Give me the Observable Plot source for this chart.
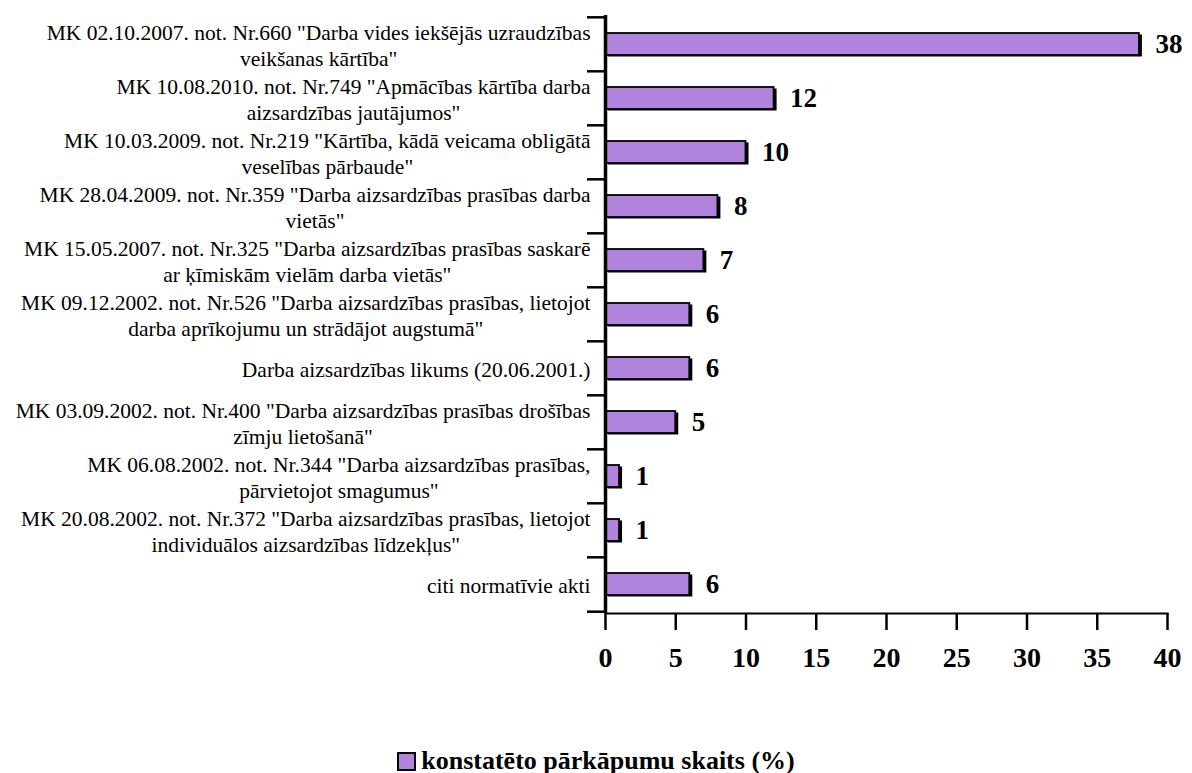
<!DOCTYPE html>
<html>
<head>
<meta charset="utf-8">
<script src="https://cdn.jsdelivr.net/npm/d3@7"></script>
<script src="https://cdn.jsdelivr.net/npm/@observablehq/plot@0.6"></script>
<style>
  body { margin: 0; background: #fff; font-family: "Liberation Serif", "Times New Roman", serif; }
  #legend { display: flex; justify-content: center; align-items: center; margin-top: 46px; font-weight: bold; font-size: 26px; color: #000; }
  #legend .sw { width: 15px; height: 15px; background: #b084dc; border: 2px solid #000; margin-right: 5px; }
</style>
</head>
<body>
<div id="chart"></div>
<div id="legend"><span class="sw"></span><span id="legend-text"></span></div>
<script>
const categories = [
  'MK 02.10.2007. not. Nr.660 "Darba vides iekšējās uzraudzības\nveikšanas kārtība"',
  'MK 10.08.2010. not. Nr.749 "Apmācības kārtība darba\naizsardzības jautājumos"',
  'MK 10.03.2009. not. Nr.219 "Kārtība, kādā veicama obligātā\nveselības pārbaude"',
  'MK 28.04.2009. not. Nr.359 "Darba aizsardzības prasības darba\nvietās"',
  'MK 15.05.2007. not. Nr.325 "Darba aizsardzības prasības saskarē\nar ķīmiskām vielām darba vietās"',
  'MK 09.12.2002. not. Nr.526 "Darba aizsardzības prasības, lietojot\ndarba aprīkojumu un strādājot augstumā"',
  'Darba aizsardzības likums (20.06.2001.)',
  'MK 03.09.2002. not. Nr.400 "Darba aizsardzības prasības drošības\nzīmju lietošanā"',
  'MK 06.08.2002. not. Nr.344 "Darba aizsardzības prasības,\npārvietojot smagumus"',
  'MK 20.08.2002. not. Nr.372 "Darba aizsardzības prasības, lietojot\nindividuālos aizsardzības līdzekļus"',
  'citi normatīvie akti'
];
const values = [38, 12, 10, 8, 7, 6, 6, 5, 1, 1, 6];
const xTicks = [0, 5, 10, 15, 20, 25, 30, 35, 40];
const seriesName = "konstatēto pārkāpumu skaits (%)";

const data = categories.map((c, i) => ({label: c, value: values[i]}));

const W = 1192, H = 700, mTop = 15, mBottom = 87;
const bw = (H - mTop - mBottom) / categories.length;
const inset = 16;

const chart = Plot.plot({
  width: W, height: H,
  marginLeft: 605, marginRight: 25, marginTop: mTop, marginBottom: mBottom,
  style: {fontFamily: '"Liberation Serif", "Times New Roman", serif', color: "#000", background: "#fff", overflow: "visible"},
  x: {domain: [0, 40]},
  y: {domain: categories, padding: 0},
  marks: [
    Plot.barX(data, {x: "value", y: "label", fill: "#000", insetTop: inset, insetBottom: inset, dx: 3, dy: 1.5}),
    Plot.barX(data, {x: "value", y: "label", fill: "#b084dc", stroke: "#000", strokeWidth: 1.8, insetTop: inset, insetBottom: inset}),
    Plot.text(data, {x: "value", y: "label", text: d => String(d.value), dx: 16, textAnchor: "start", fontWeight: "bold", fontSize: 27, fill: "#000"}),
    Plot.axisY({tickSize: 0, tickPadding: 15, fontSize: 21.5, lineHeight: 1.2, label: null}),
    Plot.axisY({text: null, tickSize: 18, strokeWidth: 2.5, dy: -bw / 2, label: null}),
    Plot.axisY({ticks: [categories[categories.length - 1]], text: null, tickSize: 18, strokeWidth: 2.5, dy: bw / 2, label: null}),
    Plot.axisX({ticks: xTicks, tickSize: 17, tickPadding: 17, strokeWidth: 2.5, fontSize: 28, fontWeight: "bold", label: null}),
    Plot.frame({anchor: "bottom", strokeWidth: 2}),
    Plot.ruleX([0], {strokeWidth: 3.5})
  ]
});
document.getElementById("chart").appendChild(chart);
document.getElementById("legend-text").textContent = seriesName;

// center multi-line category labels as a block whose widest line ends at the tick padding
chart.querySelectorAll('g[aria-label="y-axis tick label"] text').forEach(t => {
  const spans = t.querySelectorAll("tspan");
  if (spans.length < 2) return;
  let maxW = 0;
  spans.forEach(s => { maxW = Math.max(maxW, s.getComputedTextLength()); });
  t.setAttribute("text-anchor", "middle");
  spans.forEach(s => s.setAttribute("x", -maxW / 2));
});
</script>
</body>
</html>
